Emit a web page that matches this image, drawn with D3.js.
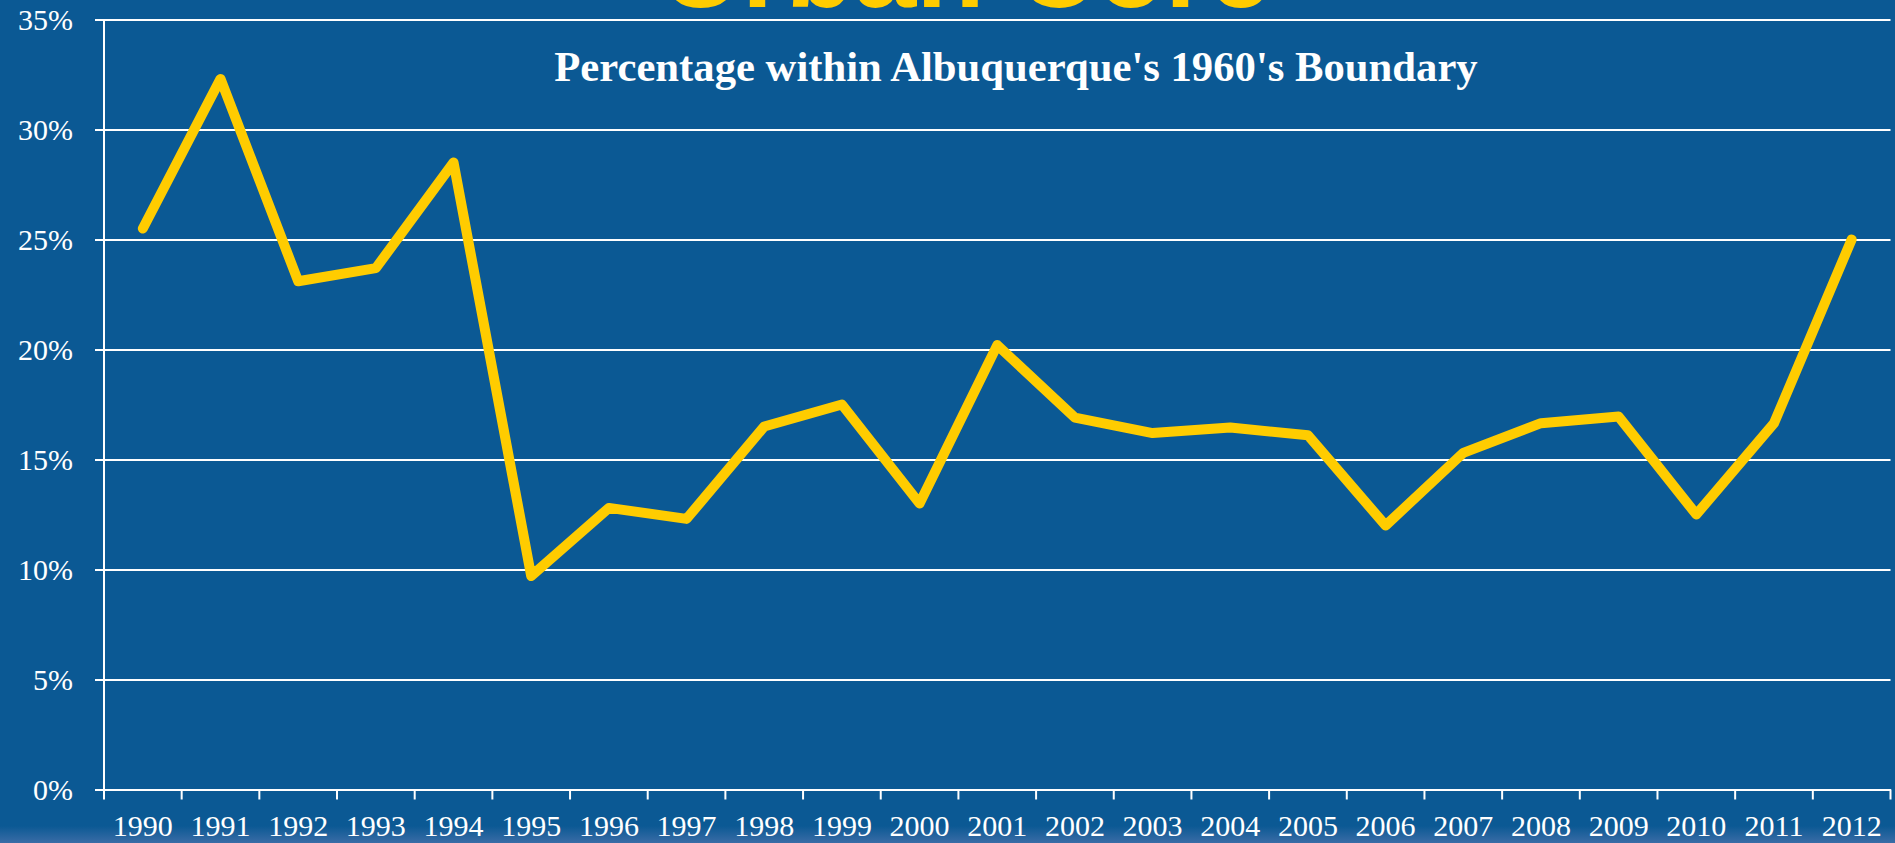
<!DOCTYPE html>
<html>
<head>
<meta charset="utf-8">
<script src="https://cdn.jsdelivr.net/npm/d3@7"></script>
<style>
    html, body { margin: 0; padding: 0; overflow: hidden; background: #0B5994; }
    svg { display: block; }
</style>
</head>
<body>
<div id="chart"></div>
<script>
// Chart data
var years = ["1990", "1991", "1992", "1993", "1994", "1995", "1996", "1997", "1998", "1999", "2000", "2001",
    "2002", "2003", "2004", "2005", "2006", "2007", "2008", "2009", "2010", "2011", "2012"];
var percentWithin1960Boundary = [25.5, 32.3, 23.1, 23.7, 28.5, 9.7, 12.8, 12.3, 16.5, 17.5, 13.0, 20.2,
    16.9, 16.2, 16.45, 16.1, 12.0, 15.3, 16.65, 16.95, 12.5, 16.65, 25.0];
var yTicks = [0, 5, 10, 15, 20, 25, 30, 35];
var slideTitle = "Urban Core";
var chartTitle = "Percentage within Albuquerque's 1960's Boundary";

var W = 1895, H = 843;
var margin = { top: 19.5, right: 4.5, bottom: 53.5, left: 104 };

var svg = d3.select("#chart")
    .append("svg")
    .attr("width", W)
    .attr("height", H);

// slide background, lighter at the very bottom
var defs = svg.append("defs");
var grad = defs.append("linearGradient")
    .attr("id", "bottomFade")
    .attr("x1", 0).attr("y1", 0).attr("x2", 0).attr("y2", 1);
grad.append("stop").attr("offset", "0%").attr("stop-color", "#0B5994");
grad.append("stop").attr("offset", "100%").attr("stop-color", "#3A6CA6");

svg.append("rect")
    .attr("width", W).attr("height", H)
    .attr("fill", "#0B5994");
svg.append("rect")
    .attr("y", 826).attr("width", W).attr("height", H - 826)
    .attr("fill", "url(#bottomFade)");

// slide title, mostly cut off above the frame
svg.append("text")
    .attr("x", 966)
    .attr("y", 7)
    .attr("text-anchor", "middle")
    .style("font-family", "'Liberation Sans', Arial, sans-serif")
    .style("font-weight", "bold")
    .style("font-size", "112px")
    .attr("fill", "#FFCC00")
    .text(slideTitle);

var x = d3.scaleBand()
    .domain(years)
    .range([margin.left, W - margin.right])
    .padding(0);

var y = d3.scaleLinear()
    .domain([0, 35])
    .range([H - margin.bottom, margin.top]);

// Gridlines + left axis
var yAxis = svg.append("g")
    .attr("transform", "translate(" + margin.left + ",0)")
    .call(d3.axisLeft(y)
        .tickValues(yTicks)
        .tickSizeOuter(0)
        .tickSize(-(W - margin.right - margin.left))
        .tickPadding(31)
        .tickFormat(function (d) { return d + "%"; }));
yAxis.select(".domain").remove();
yAxis.selectAll(".tick line")
    .attr("x1", -9)
    .attr("stroke", "#ffffff")
    .attr("stroke-width", 2);
yAxis.selectAll(".tick text")
    .attr("fill", "#ffffff")
    .style("font-family", "'Liberation Serif', 'Times New Roman', serif")
    .style("font-size", "30px");

svg.append("line")
    .attr("x1", margin.left).attr("x2", margin.left)
    .attr("y1", y(35)).attr("y2", y(0))
    .attr("stroke", "#ffffff")
    .attr("stroke-width", 2);

// Bottom axis: labels at band centres, ticks on band edges
var xAxis = svg.append("g")
    .attr("transform", "translate(0," + y(0) + ")")
    .call(d3.axisBottom(x).tickSize(0).tickPadding(25));
xAxis.select(".domain")
    .attr("stroke", "#ffffff")
    .attr("stroke-width", 2);
xAxis.selectAll(".tick text")
    .attr("fill", "#ffffff")
    .style("font-family", "'Liberation Serif', 'Times New Roman', serif")
    .style("font-size", "30px");

var edges = years.map(function (d) { return x(d); }).concat([x.range()[1]]);
xAxis.selectAll(".edgeTick")
    .data(edges)
    .enter()
    .append("line")
    .attr("class", "edgeTick")
    .attr("x1", function (d) { return d; })
    .attr("x2", function (d) { return d; })
    .attr("y1", 0)
    .attr("y2", 10)
    .attr("stroke", "#ffffff")
    .attr("stroke-width", 2);

// chart title
svg.append("text")
    .attr("x", 1016)
    .attr("y", 81)
    .attr("text-anchor", "middle")
    .style("font-family", "'Liberation Serif', 'Times New Roman', serif")
    .style("font-weight", "bold")
    .style("font-size", "42.7px")
    .attr("fill", "#ffffff")
    .text(chartTitle);

// the yellow line
svg.append("path")
    .datum(percentWithin1960Boundary)
    .attr("fill", "none")
    .attr("stroke", "#FFCC00")
    .attr("stroke-width", 10)
    .attr("stroke-linejoin", "round")
    .attr("stroke-linecap", "round")
    .attr("d", d3.line()
        .x(function (d, i) { return x(years[i]) + x.bandwidth() / 2; })
        .y(function (d) { return y(d); })
    );
</script>
</body>
</html>
